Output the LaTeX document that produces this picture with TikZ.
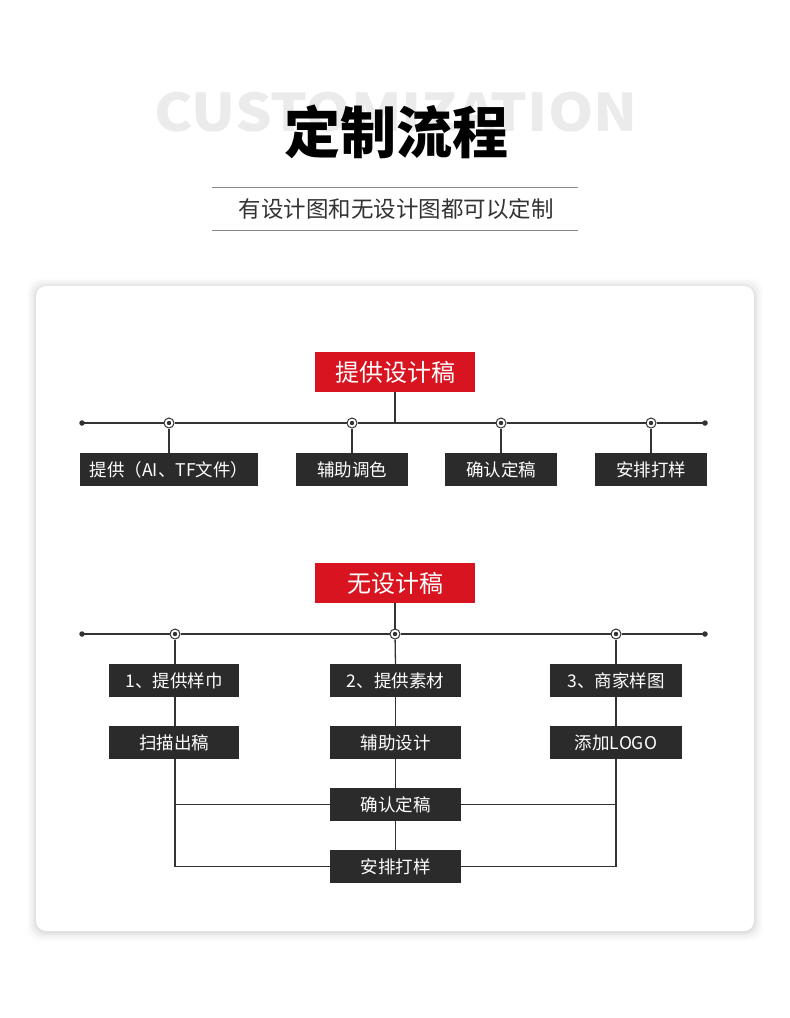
\documentclass[tikz,border=0pt]{standalone}
\usepackage{fontspec}
\newfontfamily\cjk{Noto Sans CJK SC}
\usetikzlibrary{calc}
\definecolor{redbox}{HTML}{D7141F}
\definecolor{darkbox}{HTML}{2B2B2B}
\definecolor{linec}{HTML}{333333}
\definecolor{ghost}{HTML}{EBEBEB}
\definecolor{rulec}{HTML}{8A8A8A}
\tikzset{
  redhead/.style={fill=redbox, text=white, minimum width=160pt, minimum height=40pt, inner sep=0pt, font=\cjk\fontsize{24}{26}\selectfont},
  stepbox/.style={fill=darkbox, text=white, minimum height=33pt, inner sep=0pt, font=\cjk\fontsize{17.5}{20}\selectfont},
  conn/.style={draw=linec, line width=1.3pt},
  marker/.style={circle, draw=linec, line width=1pt, fill=white, minimum size=10pt, inner sep=0pt,
    path picture={\fill[linec] (path picture bounding box.center) circle (2.2pt);}},
  enddot/.style={circle, fill=linec, minimum size=5.5pt, inner sep=0pt},
}
\begin{document}
\begin{tikzpicture}[x=1pt,y=-1pt]
\useasboundingbox (0,0) rectangle (790,1018);
\fill[white] (0,0) rectangle (790,1018);
% card shadow
\foreach \s/\o in {9/0.012,7/0.018,5/0.024,3/0.03,1.5/0.035}{
  \fill[black, opacity=\o, rounded corners=12pt] (36-\s,286-\s+1) rectangle (754+\s,931+\s+1);
}
\fill[white, rounded corners=10pt] (36,286) rectangle (754,931);

% header
\node[text=ghost, font=\cjk\bfseries\fontsize{52}{56}\selectfont] (ghost) at (396,112) {\scalebox{1.11}[1]{CUSTOMIZATION}};
\node[text=black, font=\cjk\bfseries\fontsize{56}{60}\selectfont] (title) at (396,132) {定制流程};
\draw[rulec, line width=1pt] (212,187) -- (578,187);
\draw[rulec, line width=1pt] (212,230) -- (578,230);
\node[text=linec, font=\cjk\fontsize{22.5}{26}\selectfont] (sub) at (396,209) {有设计图和无设计图都可以定制};

% section 1
\node[redhead] (r1) at (395,372) {提供设计稿};
\node[enddot] (l1) at (82,423) {};
\node[enddot] (e1) at (705,423) {};
\node[marker] (m1) at (169,423) {};
\node[marker] (m2) at (352,423) {};
\node[marker] (m3) at (501,423) {};
\node[marker] (m4) at (651,423) {};
\coordinate (j1) at (395,423);
\node[stepbox, minimum width=178pt] (a1) at (169,469.5) {提供（AI、TF文件）};
\node[stepbox, minimum width=112pt] (a2) at (352,469.5) {辅助调色};
\node[stepbox, minimum width=112pt] (a3) at (501,469.5) {确认定稿};
\node[stepbox, minimum width=112pt] (a4) at (651,469.5) {安排打样};
\draw[conn] (l1.center) -- (m1) -- (m2) -- (m3) -- (m4) -- (e1.center);
\draw[conn] (r1.south) -- (j1);
\draw[conn] (m1) -- (a1.north);
\draw[conn] (m2) -- (a2.north);
\draw[conn] (m3) -- (a3.north);
\draw[conn] (m4) -- (a4.north);

% section 2
\node[redhead] (r2) at (395,583) {无设计稿};
\node[enddot] (l2) at (82,634) {};
\node[enddot] (e2) at (705,634) {};
\node[marker] (n1) at (175,634) {};
\node[marker] (n2) at (395,634) {};
\node[marker] (n3) at (616,634) {};
\node[stepbox, minimum width=130pt] (b1) at (174,680.5) {1、提供样巾};
\node[stepbox, minimum width=131pt] (b2) at (395.5,680.5) {2、提供素材};
\node[stepbox, minimum width=132pt] (b3) at (616,680.5) {3、商家样图};
\node[stepbox, minimum width=130pt] (c1) at (174,742.5) {扫描出稿};
\node[stepbox, minimum width=131pt] (c2) at (395.5,742.5) {辅助设计};
\node[stepbox, minimum width=132pt] (c3) at (616,742.5) {添加LOGO};
\node[stepbox, minimum width=131pt] (d2) at (395.5,804.5) {确认定稿};
\node[stepbox, minimum width=131pt] (f2) at (395.5,866.5) {安排打样};
\coordinate (lc) at (175,804.5);
\coordinate (lf) at (175,866.5);
\coordinate (rc) at (616,804.5);
\coordinate (rf) at (616,866.5);
\draw[conn] (l2.center) -- (n1) -- (n2) -- (n3) -- (e2.center);
\draw[conn] (r2.south) -- (n2);
\draw[conn] (n1) -- (n1 |- b1.north);
\draw[conn] (n2) -- (b2.north);
\draw[conn] (n3) -- (b3.north);
\draw[conn] (b1.south -| n1) -- (c1.north -| n1);
\draw[conn] (b2) -- (c2);
\draw[conn] (b3) -- (c3);
\draw[conn] (c2) -- (d2);
\draw[conn] (d2) -- (f2);
\draw[conn] (c1.south -| lc) -- (lf) -- (f2.west);
\draw[conn] (lc) -- (d2.west);
\draw[conn] (c3.south -| rc) -- (rf) -- (f2.east);
\draw[conn] (rc) -- (d2.east);
\end{tikzpicture}
\end{document}
